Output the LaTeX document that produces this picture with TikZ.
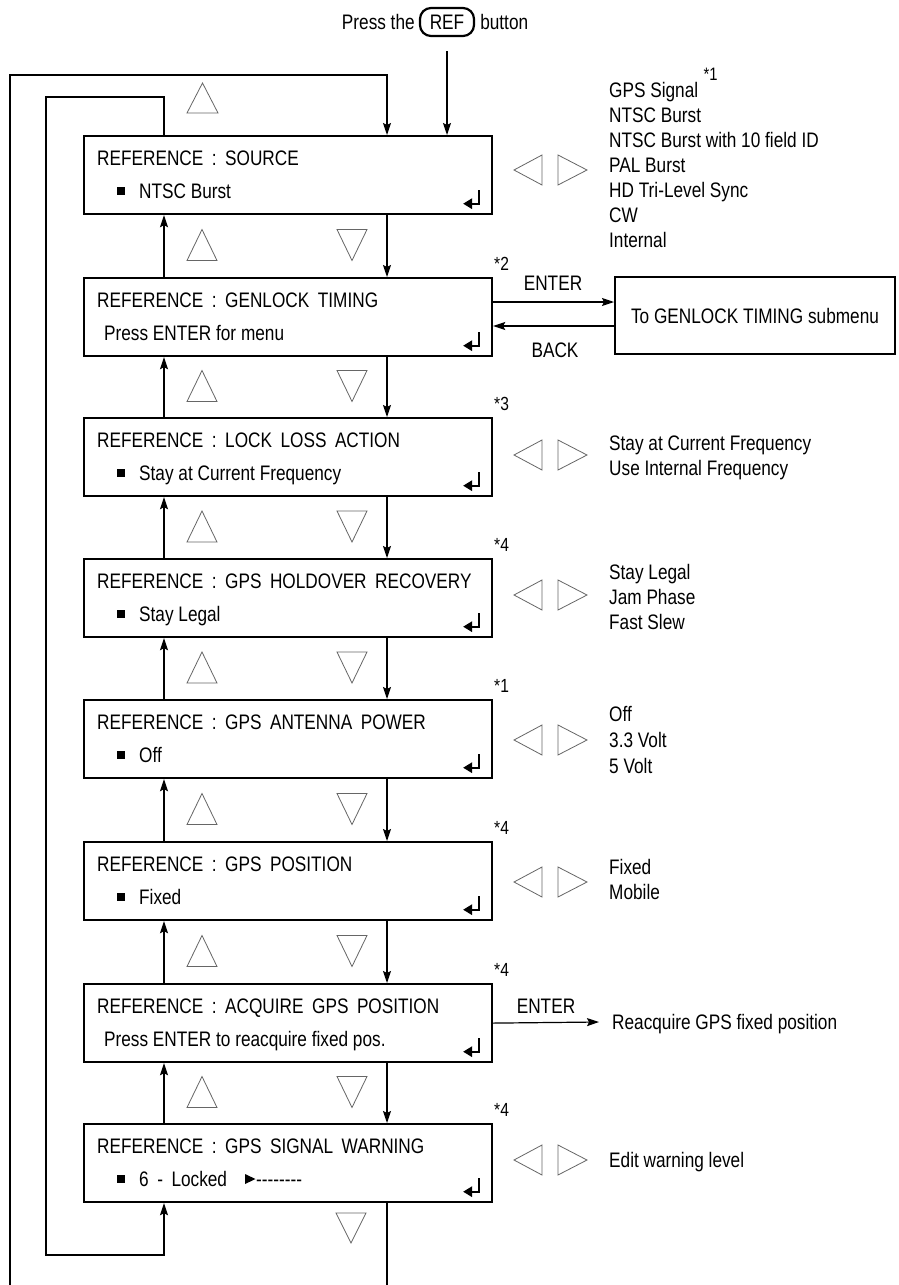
\documentclass[tikz,border=0pt]{standalone}
\usepackage{fontspec}
\setmainfont{Liberation Sans}[FakeStretch=0.82]
\usetikzlibrary{arrows.meta,calc}
\newcommand{\tgap}{\hspace{8.5pt}}
\begin{document}
\begin{tikzpicture}[x=1pt,y=-1pt,
  box/.style={draw, line width=2.2pt, minimum width=408pt, minimum height=78pt, inner sep=0pt, anchor=north west},
  subbox/.style={draw, line width=2pt, minimum width=280pt, minimum height=77pt, inner sep=0pt},
  txt/.style={inner sep=0pt, anchor=west, text height=15pt, text depth=0pt, font=\fontsize{21}{25}\selectfont},
  ctxt/.style={txt, anchor=center},
  star/.style={inner sep=0pt, anchor=west, text height=13.6pt, text depth=0pt, font=\fontsize{19}{20}\selectfont},
  conn/.style={line width=1.2pt},
  arr/.style={conn, -{Stealth[length=12pt,width=8pt,inset=2pt]}},
  tri/.style={draw=black!60, line width=0.8pt, line join=miter},
  ret/.style={line width=2.2pt}
]
\useasboundingbox (0,0) rectangle (898,1285);
\fill[white] (0,0) rectangle (898,1285);

% header
\node[draw, line width=2.2pt, rounded corners=11pt, minimum width=54pt, minimum height=28pt, inner sep=0pt,
      font=\fontsize{21}{25}\selectfont, text height=15pt, text depth=0pt] (ref) at (447,22) {REF};
\node[txt, anchor=east] (press) at ([xshift=-4pt]ref.west) {Press the};
\node[txt] (button) at ([xshift=5pt]ref.east) {button};

% boxes
\node[box] (b1) at (83,135) {};
\node[box] (b2) at (83,277) {};
\node[box] (b3) at (83,417) {};
\node[box] (b4) at (83,558) {};
\node[box] (b5) at (83,699) {};
\node[box] (b6) at (83,841) {};
\node[box] (b7) at (83,983) {};
\node[box] (b8) at (83,1123) {};

% titles
\node[txt] (t1) at (97,158) {REFERENCE\tgap:\tgap SOURCE};
\node[txt] (t2) at (97,300) {REFERENCE\tgap:\tgap GENLOCK\tgap TIMING};
\node[txt] (t3) at (97,440) {REFERENCE\tgap:\tgap LOCK\tgap LOSS\tgap ACTION};
\node[txt] (t4) at (97,581) {REFERENCE\tgap:\tgap GPS\tgap HOLDOVER\tgap RECOVERY};
\node[txt] (t5) at (97,722) {REFERENCE\tgap:\tgap GPS\tgap ANTENNA\tgap POWER};
\node[txt] (t6) at (97,864) {REFERENCE\tgap:\tgap GPS\tgap POSITION};
\node[txt] (t7) at (97,1006) {REFERENCE\tgap:\tgap ACQUIRE\tgap GPS\tgap POSITION};
\node[txt] (t8) at (97,1146) {REFERENCE\tgap:\tgap GPS\tgap SIGNAL\tgap WARNING};

% values
\node[txt] (v1) at (139,191) {NTSC Burst};
\node[txt] (v2) at (104,333) {Press ENTER for menu};
\node[txt] (v3) at (139,473) {Stay at Current Frequency};
\node[txt] (v4) at (139,614) {Stay Legal};
\node[txt] (v5) at (139,755) {Off};
\node[txt] (v6) at (139,897) {Fixed};
\node[txt] (v7) at (104,1039) {Press ENTER to reacquire fixed pos.};
\node[txt] (v8) at (139,1179) {6\tgap-\tgap Locked};
\node[txt] (v8d) at (256,1179) {-{}-{}-{}-{}-{}-{}-{}-};
\fill (245,1174) -- (255.5,1179) -- (245,1184) -- cycle;

% bullets
\foreach \y in {191,473,614,755,897,1179}{
  \fill (117,\y-4) rectangle ++(8,8);
}

% return symbols
\foreach \i in {1,...,8}{
  \draw[ret] ($(b\i.south east)+(-14,-25)$) -- ++(0,13.5) -- ++(-9,0);
  \fill ($(b\i.south east)+(-30,-11.5)$) -- ++(9,-5.5) -- ++(0,11) -- cycle;
}

% vertical connectors
\coordinate (ux) at (164,0);
\coordinate (dx) at (387,0);
\foreach \i/\j in {1/2,2/3,3/4,4/5,5/6,6/7,7/8}{
  \draw[arr] (b\j.north -| ux) -- (b\i.south -| ux);
  \draw[arr] (b\i.south -| dx) -- (b\j.north -| dx);
}

% up/down triangles
\foreach \c in {245,386,526.5,667.5,809,951,1092}{
  \draw[tri] (187,\c+15.5) -- (217,\c+15.5) -- (202,\c-15.5) -- cycle;
  \draw[tri] (337,\c-15.5) -- (367,\c-15.5) -- (352,\c+15.5) -- cycle;
}
\draw[tri] (187,113) -- (218,113) -- (202.5,83) -- cycle;
\draw[tri] (336,1213) -- (366,1213) -- (351,1243) -- cycle;

% left/right triangles
\foreach \c in {170,455,595,740,882,1160}{
  \draw[tri] (514,\c) -- (542,\c-15) -- (542,\c+15) -- cycle;
  \draw[tri] (558,\c-15) -- (558,\c+15) -- (587,\c) -- cycle;
}

% REF arrow
\draw[arr] ([yshift=-14pt]ref.south) -- (b1.north -| ref.south);

% outer loop
\coordinate (oB) at (10,1285);
\coordinate (oT) at (10,75);
\draw[arr] (oB) -- (oT) -| (b1.north -| dx);
\coordinate (dB) at (387,1285);
\draw[conn] (b8.south -| dx) -- (dB);

% inner loop
\coordinate (iT) at (46,97);
\coordinate (iB) at (46,1255);
\draw[arr] (b1.north -| ux) |- (iT) -- (iB) -| (b8.south -| ux);

% options
\node[txt] (o1a) at (609,90) {GPS Signal};
\node[inner sep=0pt, anchor=west, font=\fontsize{18}{18}\selectfont, text height=12.9pt, text depth=0pt] (o1s) at ([xshift=5pt,yshift=16pt]o1a.east) {*1};
\node[txt] (o1b) at (609,115) {NTSC Burst};
\node[txt] (o1c) at (609,140) {NTSC Burst with 10 field ID};
\node[txt] (o1d) at (609,165) {PAL Burst};
\node[txt] (o1e) at (609,190) {HD Tri-Level Sync};
\node[txt] (o1f) at (609,215) {CW};
\node[txt] (o1g) at (609,240) {Internal};

\node[txt] (o3a) at (609,443) {Stay at Current Frequency};
\node[txt] (o3b) at (609,468) {Use Internal Frequency};

\node[txt] (o4a) at (609,572) {Stay Legal};
\node[txt] (o4b) at (609,597) {Jam Phase};
\node[txt] (o4c) at (609,622) {Fast Slew};

\node[txt] (o5a) at (609,714) {Off};
\node[txt] (o5b) at (609,740) {3.3 Volt};
\node[txt] (o5c) at (609,766) {5 Volt};

\node[txt] (o6a) at (609,867) {Fixed};
\node[txt] (o6b) at (609,892) {Mobile};

\node[txt] (o8a) at (609,1160) {Edit warning level};

% footnote marks
\node[star] (s2) at (494,264) {*2};
\node[star] (s3) at (494,404) {*3};
\node[star] (s4) at (494,545) {*4};
\node[star] (s5) at (494,686) {*1};
\node[star] (s6) at (494,828) {*4};
\node[star] (s7) at (494,970) {*4};
\node[star] (s8) at (494,1110) {*4};

% genlock submenu
\node[subbox] (sub) at (755,315.5) {};
\node[ctxt] (subt) at (sub.center) {To GENLOCK TIMING submenu};
\coordinate (ey) at (0,302);
\coordinate (by) at (0,326);
\draw[arr] (b2.east |- ey) -- (sub.west |- ey);
\draw[arr] (sub.west |- by) -- (b2.east |- by);
\node[ctxt] (enter1) at (553,283) {ENTER};
\node[ctxt] (back1) at (555,350) {BACK};

% acquire position
\node[txt] (rq) at (612,1022) {Reacquire GPS fixed position};
\draw[arr] (b7.east) -- ([xshift=-13pt]rq.west);
\node[ctxt] (enter2) at (546,1006) {ENTER};

\end{tikzpicture}
\end{document}
